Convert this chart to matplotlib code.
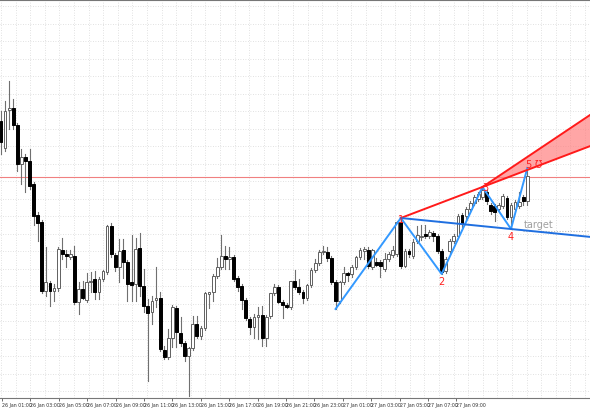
import numpy as np
import matplotlib
matplotlib.use("Agg")
import matplotlib.pyplot as plt

# candles, in screen-y units (smaller = higher price)
opens = [122, 149, 111, 109, 126, 165, 158, 162, 185, 216, 223, 292, 284, 292, 289, 251, 255, 258, 257, 303,
         290, 301, 283, 280, 293, 280, 273, 227, 256, 268, 251, 263, 283, 285, 249, 287, 307, 313, 301, 299,
         351, 358, 339, 309, 334, 344, 357, 349, 325, 337, 329, 295, 293, 277, 268, 257, 260, 258, 279, 287,
         301, 320, 328, 318, 316, 339, 317, 294, 288, 303, 306, 308, 282, 288, 293, 299, 286, 271, 264, 253,
         253, 259, 283, 302, 283, 274, 275, 268, 258, 252, 251, 268, 263, 263, 270, 260, 256, 255, 223, 267,
         252, 257, 242, 238, 235, 237, 234, 237, 252, 272, 252, 242, 237, 216, 217, 210, 204, 200, 198, 193,
         206, 207, 210, 207, 199, 218, 210, 207, 198, 202]
closes = [143, 112, 109, 126, 165, 158, 162, 187, 217, 224, 292, 283, 292, 289, 250, 255, 257, 255, 303, 290,
          299, 283, 282, 293, 280, 272, 227, 255, 268, 252, 263, 285, 286, 250, 287, 307, 314, 302, 299, 350,
          358, 339, 308, 333, 344, 357, 349, 325, 337, 329, 294, 293, 277, 268, 257, 260, 258, 280, 288, 301,
          319, 328, 318, 316, 339, 318, 294, 288, 303, 306, 308, 282, 288, 293, 299, 286, 271, 264, 253, 252,
          259, 283, 302, 283, 274, 276, 268, 258, 251, 250, 267, 251, 266, 267, 260, 255, 251, 223, 267, 252,
          255, 243, 236, 237, 237, 233, 237, 252, 273, 260, 242, 237, 217, 225, 210, 204, 198, 195, 191, 202,
          212, 213, 206, 197, 218, 206, 203, 203, 202, 177]
highs = [112, 102, 82, 100, 124, 150, 155, 150, 183, 213, 221, 248, 282, 285, 248, 239, 251, 251, 247, 283,
         282, 274, 273, 272, 278, 271, 226, 224, 254, 240, 240, 261, 236, 239, 234, 270, 300, 297, 268, 293,
         347, 330, 306, 307, 318, 342, 348, 317, 317, 327, 293, 293, 275, 259, 236, 247, 248, 256, 277, 285,
         299, 318, 315, 308, 307, 316, 294, 285, 286, 301, 304, 282, 271, 280, 291, 285, 269, 260, 251, 247,
         248, 257, 281, 282, 268, 273, 266, 257, 249, 248, 248, 250, 259, 261, 254, 253, 247, 222, 219, 250,
         250, 240, 227, 226, 226, 231, 232, 235, 250, 258, 240, 235, 215, 214, 208, 202, 196, 193, 188, 191,
         204, 205, 204, 195, 197, 204, 201, 193, 196, 169]
lows = [155, 152, 130, 130, 172, 185, 193, 190, 226, 242, 294, 297, 307, 302, 292, 260, 268, 260, 305, 315,
        300, 303, 293, 300, 300, 282, 275, 258, 272, 283, 279, 302, 302, 302, 297, 313, 382, 325, 308, 352,
        360, 360, 348, 348, 347, 362, 397, 351, 339, 340, 331, 309, 302, 279, 270, 270, 270, 282, 292, 310,
        321, 335, 339, 340, 347, 347, 319, 296, 304, 319, 309, 310, 290, 295, 304, 301, 288, 273, 266, 255,
        262, 285, 310, 304, 285, 282, 278, 270, 260, 260, 269, 270, 267, 278, 272, 262, 258, 257, 269, 268,
        258, 259, 244, 241, 239, 239, 242, 254, 275, 274, 254, 244, 239, 228, 220, 212, 206, 202, 200, 205,
        215, 222, 213, 209, 220, 230, 212, 209, 206, 206]

time_labels = ["26 Jan 01:00", "26 Jan 03:00", "26 Jan 05:00", "26 Jan 07:00", "26 Jan 09:00",
               "26 Jan 11:00", "26 Jan 13:00", "26 Jan 15:00", "26 Jan 17:00", "26 Jan 19:00",
               "26 Jan 21:00", "26 Jan 23:00", "27 Jan 01:00", "27 Jan 03:00", "27 Jan 05:00",
               "27 Jan 07:00", "27 Jan 09:00"]

# wave pivots: candle index for points X,1,2,3,4,5
wave_idx = [82, 98, 108, 118, 125, 129]
wave_kind = ["low", "high", "low", "high", "low", "high"]
hline_level = 178       # red horizontal level
wedge_top_end = 116     # upper wedge edge at the right border

# screen mapping (pixels)
W, H = 590, 410
x0, dx = 1.0, 4.08
ax_top, ax_bot = 1, 399

fig = plt.figure(figsize=(W / 100, H / 100), dpi=100)
ax = fig.add_axes([0, (H - ax_bot) / H, 1, (ax_bot - ax_top) / H])
xmin, xmax = -x0 / dx, (W - x0) / dx
ax.set_xlim(xmin, xmax)
ax.set_ylim(ax_bot, ax_top)

# dotted grid
for gx in np.arange(1, W, 14.6):
    ax.axvline((gx - x0) / dx, color="#d8d8d8", lw=0.6, ls=(0, (1, 2)), zorder=0)
for gy in np.arange(7, ax_bot, 17.5):
    ax.axhline(gy, color="#d8d8d8", lw=0.6, ls=(0, (1, 2)), zorder=0)

ax.axhline(hline_level, color="#f08080", lw=0.8, zorder=1)

bw = 2.8 / dx
for i, (o, c, h, l) in enumerate(zip(opens, closes, highs, lows)):
    ax.plot([i, i], [h, l], color="#707070", lw=0.8, zorder=2)
    bull = c < o
    top, bot = min(o, c), max(o, c)
    ax.add_patch(plt.Rectangle((i - bw / 2, top), bw, max(bot - top, 0.8),
                               facecolor="white" if bull else "black",
                               edgecolor="#606060" if bull else "black", lw=0.7, zorder=3))

pts = [(i, lows[i] if k == "low" else highs[i]) for i, k in zip(wave_idx, wave_kind)]
px = [p[0] for p in pts]
py = [p[1] for p in pts]
ax.plot(px, py, color="#3399ff", lw=1.4, zorder=5)

def extend(p, q, xe):
    return p[1] + (q[1] - p[1]) * (xe - p[0]) / (q[0] - p[0])

p1, p3, p4 = pts[1], pts[3], pts[4]
y13 = extend(p1, p3, xmax)
ax.plot([p1[0], xmax], [p1[1], y13], color="#ff1a1a", lw=1.4, zorder=6)
ax.plot([p3[0], xmax], [p3[1], wedge_top_end], color="#ff1a1a", lw=1.4, zorder=6)
ax.fill([p3[0], xmax, xmax], [p3[1], wedge_top_end, y13], color="#ff8080", alpha=0.7, lw=0, zorder=4)
y14 = extend(p1, p4, xmax)
ax.plot([p1[0], xmax], [p1[1], y14], color="#1f6fe0", lw=1.4, zorder=6)

ax.plot([p4[0] + 3, xmax], [p4[1] + 2, p4[1] + 2], color="#bbbbbb", lw=0.8, ls=(0, (1, 1.5)), zorder=4)
ax.text(p4[0] + 3.2, p4[1] + 0.5, "target", color="#a0a0a0", fontsize=7, va="bottom", zorder=7)

lab_kw = dict(color="#ff2020", fontsize=7, ha="center", zorder=8)
ax.text(p1[0], p1[1] + 1, "1", va="center", **lab_kw)
ax.text(pts[2][0], pts[2][1] + 2, "2", va="top", **lab_kw)
ax.text(p3[0] + 0.7, p3[1], "3", va="center", **lab_kw)
ax.text(p4[0], p4[1] + 2, "4", va="top", **lab_kw)
ax.text(pts[5][0] + 0.3, pts[5][1] + 1, "5", va="bottom", **lab_kw)
ax.text(pts[5][0] + 2.7, pts[5][1] + 1, "Ʊ", va="bottom", **lab_kw)

ax.set_xticks([(2 + 28.4 * k - x0) / dx for k in range(len(time_labels))])
ax.set_xticklabels(time_labels, fontsize=3.4, ha="left",
                   family=["Liberation Sans Narrow", "DejaVu Sans"])
ax.tick_params(axis="x", length=2, width=0.5, pad=1, colors="#333333")
ax.set_yticks([])
for s in ["left", "right"]:
    ax.spines[s].set_visible(False)
for s in ["top", "bottom"]:
    ax.spines[s].set_color("#777777")
    ax.spines[s].set_linewidth(0.8)

fig.savefig("out.png", dpi=100)
